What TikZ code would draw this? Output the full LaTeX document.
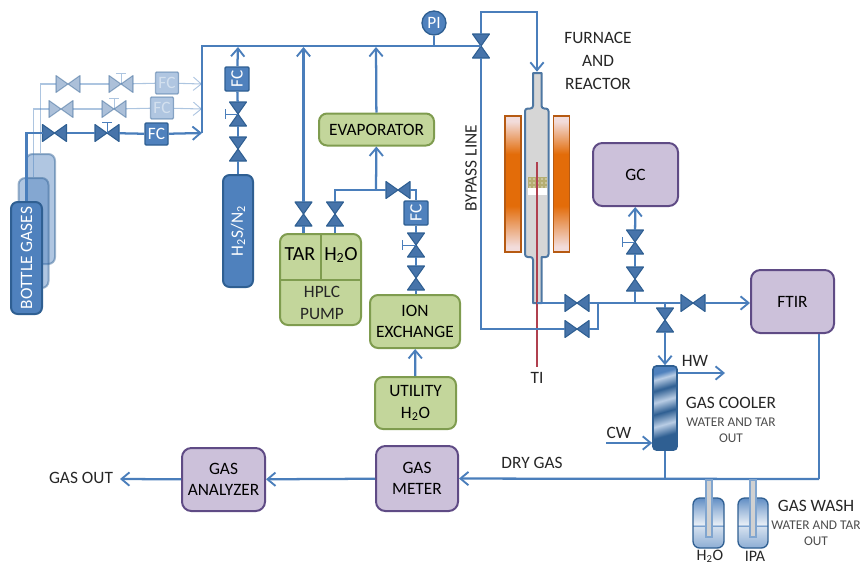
\documentclass[tikz,border=0pt]{standalone}
\usepackage{fontspec}
\setmainfont{Carlito}
\usepackage{tikz}
\usetikzlibrary{arrows.meta}

\definecolor{pipeblue}{HTML}{4A7EBB}
\definecolor{fillblue}{HTML}{4F81BD}
\definecolor{edgeblue}{HTML}{2F5F92}
\definecolor{lightblue}{HTML}{B9CDE5}
\definecolor{greenfill}{HTML}{C3D69B}
\definecolor{greenedge}{HTML}{7F9C4F}
\definecolor{purplefill}{HTML}{CCC1DA}
\definecolor{purpleedge}{HTML}{5F4B85}
\definecolor{orangefill}{HTML}{E36C09}
\definecolor{paleorange}{HTML}{F2DCDB}
\definecolor{orangeedge}{HTML}{B65A12}
\definecolor{tubered}{HTML}{B0404F}
\definecolor{catalyst}{HTML}{B5AE72}

% furnace wall, pale at both ends
\pgfdeclareverticalshading{furnacewall}{100bp}{
	color(0bp)=(paleorange); color(27bp)=(paleorange);
	color(42bp)=(orangefill); color(61bp)=(orangefill);
	color(73bp)=(paleorange); color(100bp)=(paleorange)}
% wash bottle, with the liquid level
\pgfdeclareverticalshading{washbottle}{100bp}{
	color(0bp)=(fillblue!65); color(25bp)=(fillblue!65);
	color(46bp)=(fillblue!25); color(47bp)=(fillblue!75);
	color(49bp)=(fillblue!15); color(62bp)=(fillblue!50);
	color(75bp)=(fillblue!90); color(100bp)=(fillblue!90)}
% cooler body, slanted bands
\pgfdeclareverticalshading{coolerbody}{100bp}{
	color(0bp)=(edgeblue); color(25bp)=(edgeblue);
	color(31bp)=(edgeblue); color(39bp)=(lightblue);
	color(47.5bp)=(edgeblue); color(55.5bp)=(lightblue);
	color(63.5bp)=(edgeblue); color(71bp)=(lightblue);
	color(75bp)=(fillblue); color(100bp)=(fillblue)}

\tikzset{
	box size/.style 2 args={minimum width=#1*0.75pt, minimum height=#2*0.75pt},
	pipe/.style={draw=pipeblue, line width=1.7pt},
	pipearrow/.style={pipe, -{Straight Barb[length=6pt,width=10pt,line width=1.4pt]}},
	thinpipe/.style={draw=pipeblue, line width=0.8pt},
	thinarrow/.style={thinpipe, -{Straight Barb[length=6pt,width=10pt,line width=0.7pt]}},
	valvebox/.style={inner sep=0pt, outer sep=0pt},
	valvefill/.style={fill=fillblue!90!black, draw=edgeblue, line width=0.8pt, line join=round},
	handle/.style={draw=pipeblue, line width=0.6pt},
	greenbox/.style={draw=greenedge, fill=greenfill, line width=1.5pt, rounded corners=6pt, align=center, inner sep=0pt},
	purplebox/.style={draw=purpleedge, fill=purplefill, line width=1.5pt, rounded corners=7pt, align=center, inner sep=0pt},
	fcbox/.style={draw=edgeblue, fill=fillblue, line width=1pt, text=white, rounded corners=0.8pt, inner sep=0pt, box size={23}{22}},
	bottle/.style={draw=edgeblue, fill=fillblue, line width=1.5pt, rounded corners=5pt, inner sep=0pt, text=white},
	washglass/.style={draw=edgeblue, shading=washbottle, line width=1pt, rounded corners=5pt},
	washtube/.style={draw=pipeblue!70, fill=black!18, line width=0.8pt},
	furnace/.style={draw=orangeedge, shading=furnacewall, line width=1.2pt},
	reactor/.style={draw=edgeblue!85, fill=black!16, line width=1.5pt, line join=round},
	smalltext/.style={font=\fontsize{10pt}{12pt}\selectfont, text=black!70, align=center},
	plaintext/.style={text=black!85, align=center}
}

\newcommand{\hvalve}[2]{
	\node[valvebox, box size={24}{17}] (#1) at (#2) {};
	\path[valvefill] (#1.north west) -- (#1.center) -- (#1.south west) -- cycle;
	\path[valvefill] (#1.north east) -- (#1.center) -- (#1.south east) -- cycle;
}
\newcommand{\vvalve}[2]{
	\node[valvebox, box size={17}{24}] (#1) at (#2) {};
	\path[valvefill] (#1.north west) -- (#1.center) -- (#1.north east) -- cycle;
	\path[valvefill] (#1.south west) -- (#1.center) -- (#1.south east) -- cycle;
}

\begin{document}
\begin{tikzpicture}[
	x=0.75pt, y=-0.75pt,
	every node/.style={font=\fontsize{13pt}{16pt}\selectfont}
	]
	\useasboundingbox (0,0) rectangle (860,565);

	% bottle gases, the two at the back are faded
	\begin{scope}[opacity=0.45]
		\node[bottle, box size={29}{110}] (bottle3) at (40.5,209) {};
		\node[bottle, box size={30}{110}] (bottle2) at (33.5,233) {};
	\end{scope}
	\node[bottle, box size={31}{112}] (bottle1) at (26.5,258) {};
	\node[rotate=90, text=white] (bottletext) at (bottle1) {BOTTLE GASES};

	\coordinate (main low) at (202,133);
	\coordinate (main mid) at (202,109);
	\coordinate (main up) at (202,84);
	\coordinate (main top) at (202,46);

	\begin{scope}[opacity=0.45]
		\hvalve{v3a}{68,84}
		\hvalve{v3b}{121,84}
		\draw[handle] (v3b.center) -- ++(0,-11) ++(-5,0) -- ++(10,0);
		\node[fcbox] (fc3) at (167,83) {FC};
		\draw[thinpipe] (bottle3.north) |- (v3a.west);
		\draw[thinpipe] (v3a) -- (v3b);
		\draw[thinpipe] (v3b) -- (fc3);
		\draw[thinarrow] (fc3) -- (main up);

		\hvalve{v2a}{61,109}
		\hvalve{v2b}{114,109}
		\draw[handle] (v2b.center) -- ++(0,-11) ++(-5,0) -- ++(10,0);
		\node[fcbox] (fc2) at (162,108) {FC};
		\draw[thinpipe] (bottle2.north) |- (v2a.west);
		\draw[thinpipe] (v2a) -- (v2b);
		\draw[thinpipe] (v2b) -- (fc2);
		\draw[thinarrow] (fc2) -- (main mid);
	\end{scope}

	\hvalve{v1a}{54.5,133}
	\hvalve{v1b}{107,133}
	\draw[handle] (v1b.center) -- ++(0,-11) ++(-5,0) -- ++(10,0);
	\node[fcbox] (fc1) at (156.5,134) {FC};
	\draw[pipe] (bottle1.north) |- (v1a.west);
	\draw[pipe] (v1a) -- (v1b);
	\draw[pipe] (v1b) -- (fc1);
	\draw[pipearrow] (fc1) -- (main low);

	% feed line along the top
	\vvalve{vmain}{481,46}
	\draw[pipe] (main low) -- (main top) -- (vmain.center);

	% H2S line
	\node[bottle, box size={30}{112}] (hts) at (238,231) {};
	\node[rotate=90, text=white] (htstext) at (hts) {H\textsubscript{2}S/N\textsubscript{2}};
	\vvalve{vh1}{238,149}
	\vvalve{vh2}{238,114}
	\draw[handle] (vh2.center) -- ++(-13,0) ++(0,-5) -- ++(0,10);
	\node[fcbox, box size={24}{24}, rotate=90] (fch) at (237,79) {FC};
	\coordinate (jh) at (238,47);
	\draw[pipe] (hts) -- (vh1);
	\draw[pipe] (vh1) -- (vh2);
	\draw[pipe] (vh2) -- (fch);
	\draw[pipearrow] (fch) -- (jh);

	% HPLC pump
	\node[greenbox, box size={81}{91}] (pump) at (320.5,279.5) {};
	\draw[greenedge, line width=1pt] (pump.west |- 0,280) -- (pump.east |- 0,280);
	\draw[greenedge, line width=1pt] (321,234) -- (321,280);
	\node[font=\fontsize{15pt}{16pt}\selectfont] (tar) at (300,254) {TAR};
	\node[font=\fontsize{15pt}{16pt}\selectfont] (hto) at (341,255) {H\textsubscript{2}O};
	\node[plaintext] (hplc) at (322,303) {HPLC\\PUMP};

	\vvalve{vtar}{303.5,214}
	\vvalve{vwat}{335,214}
	\coordinate (jtar) at (303.5,47);
	\draw[pipe] (vtar |- pump.north) -- (vtar);
	\draw[pipe] (vwat |- pump.north) -- (vwat);
	\draw[pipearrow] (vtar) -- (jtar);

	% evaporator and ion exchange
	\node[greenbox, box size={115}{32}] (evap) at (376.5,129.5) {EVAPORATOR};
	\coordinate (jevap) at (376,47);
	\coordinate (jfeed) at (376,190);
	\draw[pipearrow] (evap) -- (jevap);
	\draw[pipearrow] (jfeed) -- (evap);
	\draw[pipe] (vwat) |- (jfeed);
	\hvalve{vion}{398,190}
	\draw[pipe] (jfeed) -- (vion);
	\node[fcbox, box size={24}{24}, rotate=90] (fcion) at (416,213) {FC};
	\draw[pipe] (vion) -| (fcion);
	\vvalve{vi1}{416,245}
	\vvalve{vi2}{416,278}
	\draw[handle] (vi1.center) -- ++(-14,0) ++(0,-5) -- ++(0,10);
	\node[greenbox, box size={90}{53}] (ion) at (415,321.5) {ION\\EXCHANGE};
	\node[greenbox, box size={81}{52}] (util) at (415.5,403) {UTILITY\\H\textsubscript{2}O};
	\draw[pipe] (fcion) -- (vi1);
	\draw[pipe] (vi1) -- (vi2);
	\draw[pipe] (vi2) -- (vi2 |- ion.north);
	\draw[pipearrow] (util) -- (ion);

	% pressure gauge
	\node[circle, draw=edgeblue, fill=fillblue, line width=1pt, text=white, inner sep=0pt, minimum size=18pt] (pi) at (434,23) {PI};
	\coordinate (jpi) at (434,46);
	\draw[pipe, line width=1pt] (pi) -- (jpi);

	% furnace and reactor
	\node[inner sep=0pt, box size={8}{2}] (rtop) at (537,73) {};
	\draw[pipearrow] (vmain.north) -- (481,12) -| (rtop.north);
	\draw[reactor] (533,73) -- (533,105) [rounded corners=2pt] -- (533,108.5) -- (525,108.5) -- (525,257) -- (533,257) [sharp corners] -- (533,303) -- (541.5,303) -- (541.5,257) [rounded corners=2pt] -- (548.5,257) -- (548.5,108.5) -- (541.5,108.5) [sharp corners] -- (541.5,73) -- cycle;
	\draw[furnace] (505,116) rectangle (521,252);
	\draw[furnace] (553.5,116) rectangle (569.5,252);
	\fill[white] (528,188) rectangle (547,195);
	\fill[catalyst] (528,177) rectangle (547,188);
	\foreach \xpos in {530,534,538,542,546}
		\foreach \ypos in {179,183,187}
			\fill[catalyst!60!white] (\xpos,\ypos) circle (0.9pt);
	\draw[tubered, line width=1pt] (537,162) -- (537,367);
	\node[plaintext] (ti) at (537,378) {TI};
	\node[plaintext] (furnacetext) at (598,61) {FURNACE\\[1pt]AND\\[1pt]REACTOR};
	\node[rotate=90, plaintext] (bypasstext) at (471,168) {BYPASS LINE};

	% bypass and product line
	\hvalve{vby}{577,329}
	\hvalve{vout}{577,303}
	\coordinate (jout) at (598,303);
	\coordinate (rbot) at (537,303);
	\draw[pipe] (vmain.south) |- (vby.west);
	\draw[pipe] (vby) -| (jout);
	\draw[pipe] (rbot) -- (vout);
	\draw[pipe] (vout) -- (jout);

	\node[purplebox, box size={85}{63}] (gc) at (635.5,174.5) {GC};
	\node[purplebox, box size={83}{63}] (ftir) at (792.5,301.5) {FTIR};
	\hvalve{vftir}{693,303}
	\vvalve{vg1}{635,279}
	\vvalve{vg2}{635,242}
	\vvalve{vc}{665,320}
	\draw[handle] (vg2.center) -- ++(-13,0) ++(0,-5) -- ++(0,10);
	\coordinate (jg) at (635,303);
	\coordinate (jc) at (665,303);
	\draw[pipe] (jout) -- (vftir);
	\draw[pipearrow] (vftir) -- (ftir.west |- vftir);
	\draw[pipe] (jg) -- (vg1);
	\draw[pipe] (vg1) -- (vg2);
	\draw[pipearrow] (vg2) -- (gc);
	\draw[pipe] (jc) -- (vc);

	% gas cooler
	\node[draw=edgeblue, shading=coolerbody, shading angle=16, line width=1.2pt, rounded corners=2.5pt, inner sep=0pt, box size={24}{84}] (cooler) at (665,408) {};
	\draw[pipearrow] (vc) -- (cooler);
	\coordinate (hwend) at (725,373);
	\coordinate (cwstart) at (606,443);
	\draw[pipearrow] (cooler.east |- hwend) -- (hwend);
	\draw[pipearrow] (cwstart) -- (cooler.west |- cwstart);
	\node[plaintext] (hw) at (695,361) {HW};
	\node[plaintext] (cw) at (619,433) {CW};
	\node[plaintext] (coolertext) at (731,403) {GAS COOLER};
	\node[smalltext] (coolernote) at (731,430) {WATER AND TAR\\OUT};

	% dry gas line
	\coordinate (jcool) at (665,479);
	\coordinate (jwash) at (819,479);
	\node[purplebox, box size={82}{65}] (meter) at (417,478.5) {GAS\\METER};
	\node[purplebox, box size={83}{63}] (analyzer) at (223.5,479.5) {GAS\\ANALYZER};
	\coordinate (gasout) at (120,479);
	\node[plaintext] (out) at (81,478) {GAS OUT};
	\node[plaintext] (dry) at (532,463) {DRY GAS};
	\draw[pipe] (cooler) -- (jcool);
	\draw[pipe] (ftir.south -| jwash) -- (jwash);
	\draw[pipearrow] (jwash) -- (meter);
	\draw[pipearrow] (meter) -- (analyzer);
	\draw[pipearrow] (analyzer) -- (gasout);

	% gas wash
	\node[washglass, box size={31}{50}] (wash1) at (708.5,523) {};
	\node[washglass, box size={30}{50}] (wash2) at (753,523) {};
	\draw[washtube] (706,480) rectangle (712,537);
	\draw[washtube] (750,480) rectangle (756,537);
	\node[plaintext, font=\fontsize{12pt}{14pt}\selectfont] (watertext) at (710,556.5) {H\textsubscript{2}O};
	\node[plaintext, font=\fontsize{12pt}{14pt}\selectfont] (ipatext) at (755,556.5) {IPA};
	\node[plaintext] (washtext) at (816,506) {GAS WASH};
	\node[smalltext] (washnote) at (816,533) {WATER AND TAR\\OUT};
\end{tikzpicture}
\end{document}
